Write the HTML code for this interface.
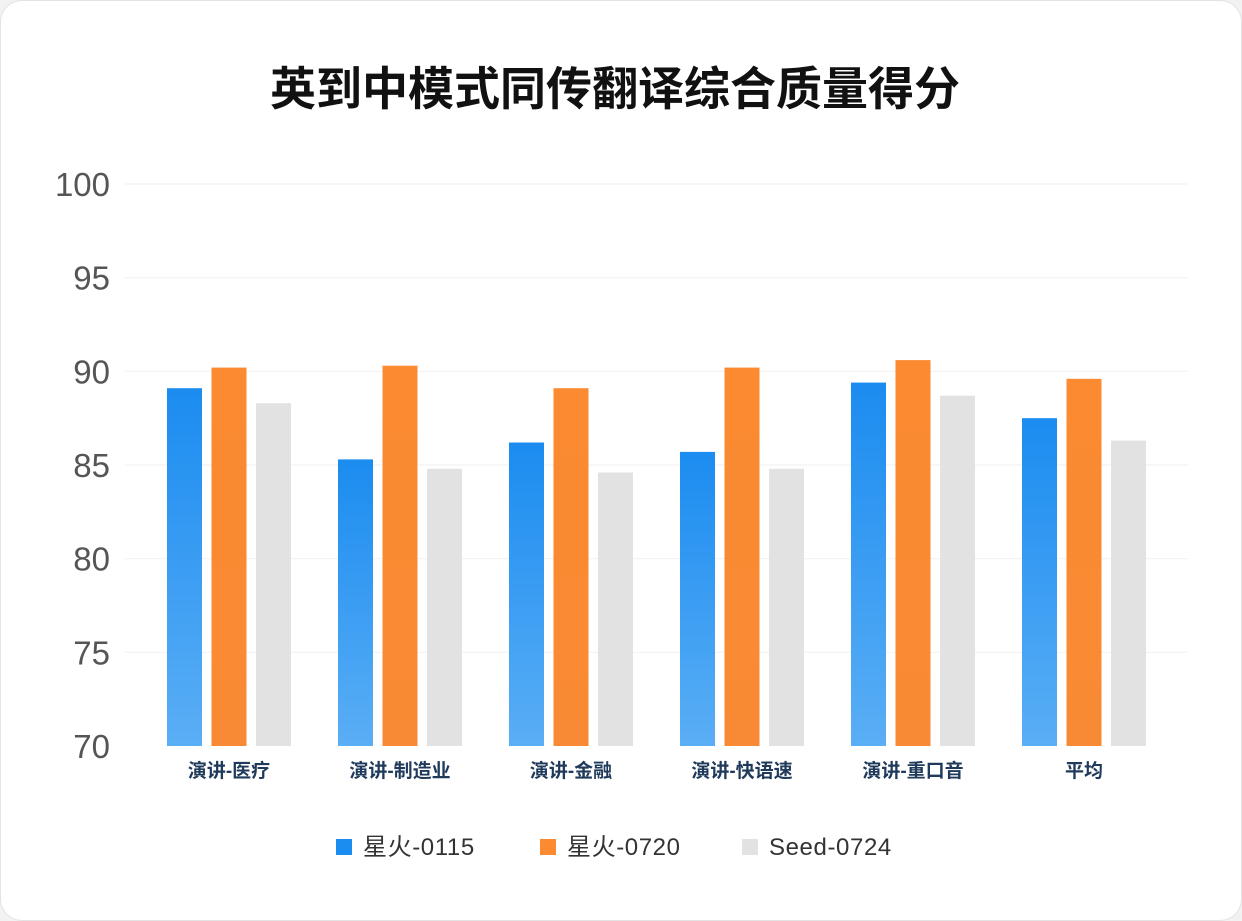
<!DOCTYPE html>
<html><head><meta charset="utf-8"><style>
body{margin:0;background:#f2f2f2;}
#card{position:absolute;left:0;top:0;width:1240px;height:919px;background:#fff;border:1px solid #e3e3e3;border-radius:22px;}
svg{position:absolute;left:0;top:0;}
</style></head><body>
<div id="card"></div>
<svg id="chart" width="1242" height="921">
<defs>
<linearGradient id="gb" x1="0" y1="0" x2="0" y2="1"><stop offset="0" stop-color="#1b8cf0"/><stop offset="1" stop-color="#5aaef5"/></linearGradient>
<linearGradient id="go" x1="0" y1="0" x2="0" y2="1"><stop offset="0" stop-color="#fb8a30"/><stop offset="1" stop-color="#f98a35"/></linearGradient>
</defs>
<text x="615" y="105" text-anchor="middle" font-family="'Liberation Sans','Noto Sans CJK SC',sans-serif" font-size="46" font-weight="bold" fill="#111">英到中模式同传翻译综合质量得分</text>
</svg>
<script>
const categories=["演讲-医疗","演讲-制造业","演讲-金融","演讲-快语速","演讲-重口音","平均"];
const seriesNames=["星火-0115","星火-0720","Seed-0724"];
const xinghuo0115=[89.1,85.3,86.2,85.7,89.4,87.5];
const xinghuo0720=[90.2,90.3,89.1,90.2,90.6,89.6];
const seed0724=[88.3,84.8,84.6,84.8,88.7,86.3];
const yTicks=[70,75,80,85,90,95,100];
const series=[xinghuo0115,xinghuo0720,seed0724];
const fills=["url(#gb)","url(#go)","#e2e2e2"];
const legendColors=["#1b8cf0","#fb8a30","#e2e2e2"];
const svg=document.getElementById('chart');
const NS="http://www.w3.org/2000/svg";
const y0=746,y1=184,vmin=70,vmax=100;
const yScale=v=>y0-(v-vmin)/(vmax-vmin)*(y0-y1);
const gx0=167,gstep=171,bw=35,bstep=44.5;
const xScale=(i,s)=>gx0+i*gstep+s*bstep;
function mk(t,a){const e=document.createElementNS(NS,t);for(const k in a)e.setAttribute(k,a[k]);svg.appendChild(e);return e;}
yTicks.forEach(t=>{
  const y=yScale(t);
  if(t!==70){const l=mk('line',{x1:125,x2:1188,y1:y,y2:y,stroke:'#f2f2f2','stroke-width':1.2});
  
  }
  const tx=mk('text',{x:110,y:y+12,'text-anchor':'end','font-family':'Liberation Sans,sans-serif','font-size':33,fill:'#555'});
  tx.textContent=t;
  
  
});
categories.forEach((c,i)=>{
  series.forEach((s,si)=>{
    const y=yScale(s[i]);
    const r=mk('rect',{x:xScale(i,si),y:y,width:bw,height:y0-y,fill:fills[si]});
    
    
  });
  const tx=mk('text',{x:xScale(i,1)+bw/2,y:777,'text-anchor':'middle','font-family':"'Liberation Sans','Noto Sans CJK SC',sans-serif",'font-size':19,'font-weight':'bold',fill:'#1f3a5a'});
  tx.textContent=c;
  
  
});
const lx=[336,540,742];
seriesNames.forEach((n,i)=>{
  const r=mk('rect',{x:lx[i],y:839,width:16,height:16,fill:legendColors[i]});
  
  
  const t=mk('text',{x:lx[i]+27,y:855,'font-family':"'Liberation Sans','Noto Sans CJK SC',sans-serif",'font-size':24,'letter-spacing':'0.6',fill:'#333'});
  t.textContent=n;
  
  
});
</script>
</body></html>
